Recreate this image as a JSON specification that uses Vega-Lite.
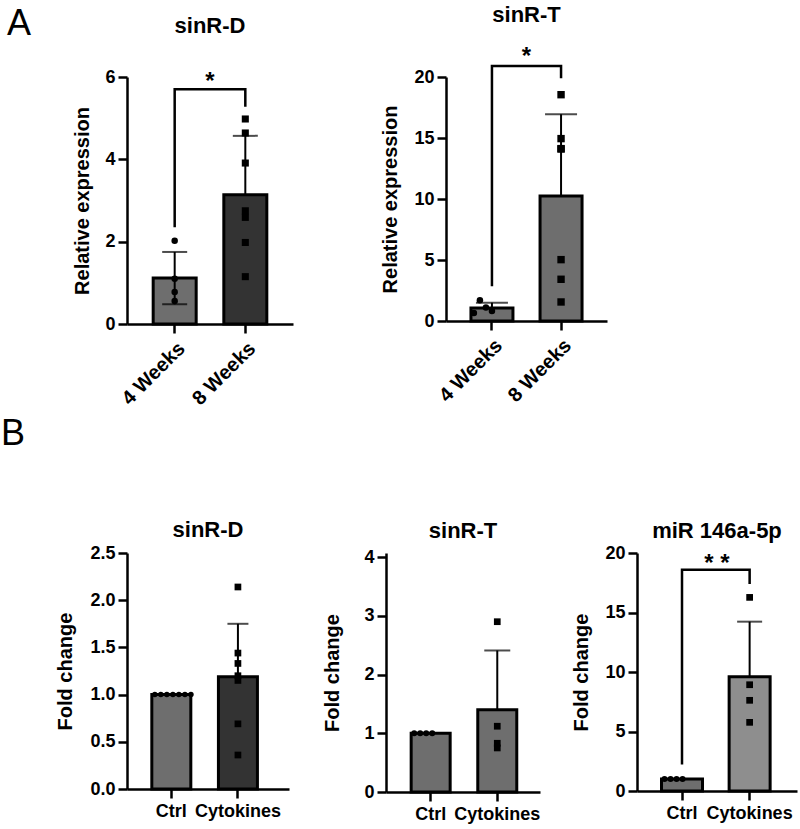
{
  "$schema": "https://vega.github.io/schema/vega-lite/v6.json",
  "autosize": "none",
  "padding": {"left": 127, "top": 77, "right": 673, "bottom": 752},
  "background": "white",
  "config": {
    "font": "Liberation Sans",
    "view": {"stroke": null},
    "axis": {
      "domainColor": "black", "domainWidth": 2.5,
      "tickColor": "black", "tickWidth": 2.5, "tickSize": 9,
      "labelColor": "black", "labelFontSize": 18, "labelFontWeight": "bold", "labelFont": "Liberation Sans", "labelPadding": 3,
      "titleColor": "black", "titleFontSize": 20, "titleFontWeight": "bold", "titleFont": "Liberation Sans",
      "grid": false
    },
    "title": {"fontSize": 22, "fontWeight": "bold", "color": "black", "font": "Liberation Sans", "anchor": "middle", "frame": "group", "baseline": "alphabetic"}
  },
  "datasets": {
    "bars": [
      {"panel": "A1", "group": "4 Weeks", "mean": 1.12, "hi": 1.75, "lo": 0.48},
      {"panel": "A1", "group": "8 Weeks", "mean": 3.14, "hi": 4.57},
      {"panel": "A2", "group": "4 Weeks", "mean": 1.07, "hi": 1.5},
      {"panel": "A2", "group": "8 Weeks", "mean": 10.25, "hi": 16.95},
      {"panel": "B1", "group": "Ctrl", "mean": 1.0},
      {"panel": "B1", "group": "Cytokines", "mean": 1.19, "hi": 1.75},
      {"panel": "B2", "group": "Ctrl", "mean": 1.0},
      {"panel": "B2", "group": "Cytokines", "mean": 1.4, "hi": 2.41},
      {"panel": "B3", "group": "Ctrl", "mean": 1.0},
      {"panel": "B3", "group": "Cytokines", "mean": 9.6, "hi": 14.23}
    ],
    "points": [
      {"panel": "A1", "group": "4 Weeks", "rep": 1, "value": 2.02},
      {"panel": "A1", "group": "4 Weeks", "rep": 2, "value": 1.1},
      {"panel": "A1", "group": "4 Weeks", "rep": 3, "value": 0.78},
      {"panel": "A1", "group": "4 Weeks", "rep": 4, "value": 0.56},
      {"panel": "A1", "group": "8 Weeks", "rep": 1, "value": 4.98},
      {"panel": "A1", "group": "8 Weeks", "rep": 2, "value": 4.64},
      {"panel": "A1", "group": "8 Weeks", "rep": 3, "value": 3.91},
      {"panel": "A1", "group": "8 Weeks", "rep": 4, "value": 2.75},
      {"panel": "A1", "group": "8 Weeks", "rep": 5, "value": 2.59},
      {"panel": "A1", "group": "8 Weeks", "rep": 6, "value": 1.98},
      {"panel": "A1", "group": "8 Weeks", "rep": 7, "value": 1.15},
      {"panel": "A2", "group": "4 Weeks", "rep": 1, "value": 0.66},
      {"panel": "A2", "group": "4 Weeks", "rep": 2, "value": 1.7},
      {"panel": "A2", "group": "4 Weeks", "rep": 3, "value": 1.1},
      {"panel": "A2", "group": "4 Weeks", "rep": 4, "value": 0.82},
      {"panel": "A2", "group": "8 Weeks", "rep": 1, "value": 18.55},
      {"panel": "A2", "group": "8 Weeks", "rep": 2, "value": 14.95},
      {"panel": "A2", "group": "8 Weeks", "rep": 3, "value": 14.13},
      {"panel": "A2", "group": "8 Weeks", "rep": 4, "value": 14.1},
      {"panel": "A2", "group": "8 Weeks", "rep": 5, "value": 5.03},
      {"panel": "A2", "group": "8 Weeks", "rep": 6, "value": 3.42},
      {"panel": "A2", "group": "8 Weeks", "rep": 7, "value": 1.56},
      {"panel": "B1", "group": "Ctrl", "rep": 1, "value": 1.0},
      {"panel": "B1", "group": "Ctrl", "rep": 2, "value": 1.0},
      {"panel": "B1", "group": "Ctrl", "rep": 3, "value": 1.0},
      {"panel": "B1", "group": "Ctrl", "rep": 4, "value": 1.0},
      {"panel": "B1", "group": "Ctrl", "rep": 5, "value": 1.0},
      {"panel": "B1", "group": "Ctrl", "rep": 6, "value": 1.0},
      {"panel": "B1", "group": "Ctrl", "rep": 7, "value": 1.0},
      {"panel": "B1", "group": "Cytokines", "rep": 1, "value": 2.14},
      {"panel": "B1", "group": "Cytokines", "rep": 2, "value": 1.44},
      {"panel": "B1", "group": "Cytokines", "rep": 3, "value": 1.33},
      {"panel": "B1", "group": "Cytokines", "rep": 4, "value": 1.2},
      {"panel": "B1", "group": "Cytokines", "rep": 5, "value": 1.15},
      {"panel": "B1", "group": "Cytokines", "rep": 6, "value": 0.69},
      {"panel": "B1", "group": "Cytokines", "rep": 7, "value": 0.36},
      {"panel": "B2", "group": "Ctrl", "rep": 1, "value": 1.0},
      {"panel": "B2", "group": "Ctrl", "rep": 2, "value": 1.0},
      {"panel": "B2", "group": "Ctrl", "rep": 3, "value": 1.0},
      {"panel": "B2", "group": "Ctrl", "rep": 4, "value": 1.0},
      {"panel": "B2", "group": "Cytokines", "rep": 1, "value": 2.9},
      {"panel": "B2", "group": "Cytokines", "rep": 2, "value": 1.12},
      {"panel": "B2", "group": "Cytokines", "rep": 3, "value": 0.83},
      {"panel": "B2", "group": "Cytokines", "rep": 4, "value": 0.75},
      {"panel": "B3", "group": "Ctrl", "rep": 1, "value": 1.0},
      {"panel": "B3", "group": "Ctrl", "rep": 2, "value": 1.0},
      {"panel": "B3", "group": "Ctrl", "rep": 3, "value": 1.0},
      {"panel": "B3", "group": "Ctrl", "rep": 4, "value": 1.0},
      {"panel": "B3", "group": "Cytokines", "rep": 1, "value": 16.27},
      {"panel": "B3", "group": "Cytokines", "rep": 2, "value": 8.93},
      {"panel": "B3", "group": "Cytokines", "rep": 3, "value": 7.62},
      {"panel": "B3", "group": "Cytokines", "rep": 4, "value": 5.77}
    ],
    "brackets": [
      {"panel": "A1", "group": "4 Weeks", "step": 1, "y": 2.35},
      {"panel": "A1", "group": "4 Weeks", "step": 2, "y": 5.7},
      {"panel": "A1", "group": "8 Weeks", "step": 3, "y": 5.7},
      {"panel": "A1", "group": "8 Weeks", "step": 4, "y": 5.28},
      {"panel": "A2", "group": "4 Weeks", "step": 1, "y": 2.85},
      {"panel": "A2", "group": "4 Weeks", "step": 2, "y": 20.9},
      {"panel": "A2", "group": "8 Weeks", "step": 3, "y": 20.9},
      {"panel": "A2", "group": "8 Weeks", "step": 4, "y": 19.9},
      {"panel": "B3", "group": "Ctrl", "step": 1, "y": 2.23},
      {"panel": "B3", "group": "Ctrl", "step": 2, "y": 18.6},
      {"panel": "B3", "group": "Cytokines", "step": 3, "y": 18.6},
      {"panel": "B3", "group": "Cytokines", "step": 4, "y": 17.4}
    ],
    "stars": [
      {"panel": "A1", "label": "*", "y": 6.05},
      {"panel": "A2", "label": "*", "y": 22.2},
      {"panel": "B3", "label": "* *", "y": 19.7}
    ]
  },
  "spacing": 476,
  "bounds": "flush",
  "vconcat": [
    {
      "title": {"text": "A", "anchor": "start", "fontSize": 36, "fontWeight": "normal", "dx": -120, "dy": 43},
      "spacing": 153,
      "bounds": "flush",
      "hconcat": [
        {
          "width": 166, "height": 247,
          "title": {"text": "sinR-D", "offset": 30},
          "layer": [
            {
              "data": {"name": "bars"},
              "transform": [{"filter": "datum.panel == 'A1'"}],
              "mark": {"type": "bar", "stroke": "black", "strokeWidth": 3, "width": 43},
              "encoding": {
                "x": {"field": "group", "type": "nominal", "title": null, "scale": {"type": "band", "domain": ["4 Weeks", "8 Weeks"], "paddingInner": 0.39, "paddingOuter": 0.37}, "axis": {"labelAngle": -45, "labelPadding": 5, "labelFontSize": 20}},
                "y": {"field": "mean", "type": "quantitative", "title": "Relative expression", "scale": {"domain": [0, 6], "nice": false}, "axis": {"values": [0, 2, 4, 6], "format": "d", "titlePadding": 12}},
                "color": {"condition": {"test": "datum.group == '8 Weeks'", "value": "#333333"}, "value": "#6e6e6e"}
              }
            },
            {
              "data": {"name": "bars"},
              "transform": [{"filter": "datum.panel == 'A1' && isValid(datum.hi)"}],
              "mark": {"type": "rule", "color": "black", "strokeWidth": 2},
              "encoding": {
                "x": {"field": "group", "type": "nominal", "title": null, "scale": {"type": "band", "domain": ["4 Weeks", "8 Weeks"]}},
                "y": {"field": "mean", "type": "quantitative", "title": "Relative expression", "scale": {"domain": [0, 6], "nice": false}},
                "y2": {"field": "hi"}
              }
            },
            {
              "data": {"name": "bars"},
              "transform": [{"filter": "datum.panel == 'A1' && isValid(datum.lo)"}],
              "mark": {"type": "rule", "color": "black", "strokeWidth": 2},
              "encoding": {
                "x": {"field": "group", "type": "nominal", "title": null, "scale": {"type": "band", "domain": ["4 Weeks", "8 Weeks"]}},
                "y": {"field": "lo", "type": "quantitative", "title": "Relative expression", "scale": {"domain": [0, 6], "nice": false}},
                "y2": {"field": "mean"}
              }
            },
            {
              "data": {"name": "bars"},
              "transform": [{"filter": "datum.panel == 'A1' && isValid(datum.hi)"}],
              "mark": {"type": "tick", "orient": "horizontal", "size": 25, "thickness": 2, "color": "black"},
              "encoding": {
                "x": {"field": "group", "type": "nominal", "title": null, "scale": {"type": "band", "domain": ["4 Weeks", "8 Weeks"]}},
                "y": {"field": "hi", "type": "quantitative", "title": "Relative expression", "scale": {"domain": [0, 6], "nice": false}}
              }
            },
            {
              "data": {"name": "bars"},
              "transform": [{"filter": "datum.panel == 'A1' && isValid(datum.lo)"}],
              "mark": {"type": "tick", "orient": "horizontal", "size": 25, "thickness": 2, "color": "black"},
              "encoding": {
                "x": {"field": "group", "type": "nominal", "title": null, "scale": {"type": "band", "domain": ["4 Weeks", "8 Weeks"]}},
                "y": {"field": "lo", "type": "quantitative", "title": "Relative expression", "scale": {"domain": [0, 6], "nice": false}}
              }
            },
            {
              "data": {"name": "points"},
              "transform": [{"filter": "datum.panel == 'A1' && datum.group == '4 Weeks'"}],
              "mark": {"type": "point", "shape": "circle", "filled": true, "color": "black", "opacity": 1, "size": 42},
              "encoding": {
                "x": {"field": "group", "type": "nominal", "title": null, "scale": {"type": "band", "domain": ["4 Weeks", "8 Weeks"]}},
                "y": {"field": "value", "type": "quantitative", "title": "Relative expression", "scale": {"domain": [0, 6], "nice": false}}
              }
            },
            {
              "data": {"name": "points"},
              "transform": [{"filter": "datum.panel == 'A1' && datum.group == '8 Weeks'"}],
              "mark": {"type": "point", "shape": "square", "filled": true, "color": "black", "opacity": 1, "size": 50},
              "encoding": {
                "x": {"field": "group", "type": "nominal", "title": null, "scale": {"type": "band", "domain": ["4 Weeks", "8 Weeks"]}},
                "y": {"field": "value", "type": "quantitative", "title": "Relative expression", "scale": {"domain": [0, 6], "nice": false}}
              }
            },
            {
              "data": {"name": "brackets"},
              "transform": [{"filter": "datum.panel == 'A1'"}],
              "mark": {"type": "line", "color": "black", "strokeWidth": 2.5, "strokeCap": "butt"},
              "encoding": {
                "x": {"field": "group", "type": "nominal", "title": null, "scale": {"type": "band", "domain": ["4 Weeks", "8 Weeks"]}},
                "y": {"field": "y", "type": "quantitative", "title": "Relative expression", "scale": {"domain": [0, 6], "nice": false}},
                "order": {"field": "step", "type": "quantitative"}
              }
            },
            {
              "data": {"name": "stars"},
              "transform": [{"filter": "datum.panel == 'A1'"}],
              "mark": {"type": "text", "fontSize": 24, "fontWeight": "bold", "color": "black", "baseline": "middle", "dy": 7},
              "encoding": {
                "y": {"field": "y", "type": "quantitative", "title": "Relative expression", "scale": {"domain": [0, 6], "nice": false}},
                "text": {"field": "label"}
              }
            }
          ]
        },
        {
          "width": 161, "height": 244,
          "title": {"text": "sinR-T", "offset": 18},
          "layer": [
            {
              "data": {"name": "bars"},
              "transform": [{"filter": "datum.panel == 'A2'"}],
              "mark": {"type": "bar", "stroke": "black", "strokeWidth": 3, "width": 42},
              "encoding": {
                "x": {"field": "group", "type": "nominal", "title": null, "scale": {"type": "band", "domain": ["4 Weeks", "8 Weeks"], "paddingInner": 0.39, "paddingOuter": 0.36}, "axis": {"labelAngle": -45, "labelPadding": 5, "labelFontSize": 20}},
                "y": {"field": "mean", "type": "quantitative", "title": "Relative expression", "scale": {"domain": [0, 20], "nice": false}, "axis": {"values": [0, 5, 10, 15, 20], "format": "d", "titlePadding": 13}},
                "color": {"value": "#6e6e6e"}
              }
            },
            {
              "data": {"name": "bars"},
              "transform": [{"filter": "datum.panel == 'A2' && isValid(datum.hi)"}],
              "mark": {"type": "rule", "color": "black", "strokeWidth": 2},
              "encoding": {
                "x": {"field": "group", "type": "nominal", "title": null, "scale": {"type": "band", "domain": ["4 Weeks", "8 Weeks"]}},
                "y": {"field": "mean", "type": "quantitative", "title": "Relative expression", "scale": {"domain": [0, 20], "nice": false}},
                "y2": {"field": "hi"}
              }
            },
            {
              "data": {"name": "bars"},
              "transform": [{"filter": "datum.panel == 'A2' && isValid(datum.hi)"}],
              "mark": {"type": "tick", "orient": "horizontal", "size": 32, "thickness": 2, "color": "black"},
              "encoding": {
                "x": {"field": "group", "type": "nominal", "title": null, "scale": {"type": "band", "domain": ["4 Weeks", "8 Weeks"]}},
                "y": {"field": "hi", "type": "quantitative", "title": "Relative expression", "scale": {"domain": [0, 20], "nice": false}}
              }
            },
            {
              "data": {"name": "points"},
              "transform": [{"filter": "datum.panel == 'A2' && datum.group == '4 Weeks'"}],
              "mark": {"type": "point", "shape": "circle", "filled": true, "color": "black", "opacity": 1, "size": 42},
              "encoding": {
                "x": {"field": "group", "type": "nominal", "title": null, "scale": {"type": "band", "domain": ["4 Weeks", "8 Weeks"]}},
                "xOffset": {"field": "rep", "type": "ordinal"},
                "y": {"field": "value", "type": "quantitative", "title": "Relative expression", "scale": {"domain": [0, 20], "nice": false}}
              }
            },
            {
              "data": {"name": "points"},
              "transform": [{"filter": "datum.panel == 'A2' && datum.group == '8 Weeks'"}],
              "mark": {"type": "point", "shape": "square", "filled": true, "color": "black", "opacity": 1, "size": 55},
              "encoding": {
                "x": {"field": "group", "type": "nominal", "title": null, "scale": {"type": "band", "domain": ["4 Weeks", "8 Weeks"]}},
                "y": {"field": "value", "type": "quantitative", "title": "Relative expression", "scale": {"domain": [0, 20], "nice": false}}
              }
            },
            {
              "data": {"name": "brackets"},
              "transform": [{"filter": "datum.panel == 'A2'"}],
              "mark": {"type": "line", "color": "black", "strokeWidth": 2.5, "strokeCap": "butt"},
              "encoding": {
                "x": {"field": "group", "type": "nominal", "title": null, "scale": {"type": "band", "domain": ["4 Weeks", "8 Weeks"]}},
                "y": {"field": "y", "type": "quantitative", "title": "Relative expression", "scale": {"domain": [0, 20], "nice": false}},
                "order": {"field": "step", "type": "quantitative"}
              }
            },
            {
              "data": {"name": "stars"},
              "transform": [{"filter": "datum.panel == 'A2'"}],
              "mark": {"type": "text", "fontSize": 24, "fontWeight": "bold", "color": "black", "baseline": "middle", "dy": 7},
              "encoding": {
                "y": {"field": "y", "type": "quantitative", "title": "Relative expression", "scale": {"domain": [0, 20], "nice": false}},
                "text": {"field": "label"}
              }
            }
          ]
        }
      ]
    },
    {
      "title": {"text": "B", "anchor": "start", "fontSize": 36, "fontWeight": "normal", "dx": -126, "dy": -62},
      "spacing": 97,
      "bounds": "flush",
      "hconcat": [
        {
          "width": 162, "height": 236,
          "title": {"text": "sinR-D", "offset": 2},
          "layer": [
            {
              "data": {"name": "bars"},
              "transform": [{"filter": "datum.panel == 'B1'"}],
              "mark": {"type": "bar", "stroke": "black", "strokeWidth": 3, "width": 39},
              "encoding": {
                "x": {"field": "group", "type": "nominal", "title": null, "scale": {"type": "band", "domain": ["Ctrl", "Cytokines"], "paddingInner": 0.414, "paddingOuter": 0.423, "align": 0.44}, "axis": {"labelAngle": 0, "labelPadding": 4}},
                "y": {"field": "mean", "type": "quantitative", "title": "Fold change", "scale": {"domain": [0, 2.5], "nice": false}, "axis": {"values": [0, 0.5, 1, 1.5, 2, 2.5], "format": ".1f", "titlePadding": 14}},
                "color": {"condition": {"test": "datum.group == 'Cytokines'", "value": "#333333"}, "value": "#6e6e6e"}
              }
            },
            {
              "data": {"name": "bars"},
              "transform": [{"filter": "datum.panel == 'B1' && isValid(datum.hi)"}],
              "mark": {"type": "rule", "color": "black", "strokeWidth": 2},
              "encoding": {
                "x": {"field": "group", "type": "nominal", "title": null, "scale": {"type": "band", "domain": ["Ctrl", "Cytokines"]}},
                "y": {"field": "mean", "type": "quantitative", "title": "Fold change", "scale": {"domain": [0, 2.5], "nice": false}},
                "y2": {"field": "hi"}
              }
            },
            {
              "data": {"name": "bars"},
              "transform": [{"filter": "datum.panel == 'B1' && isValid(datum.hi)"}],
              "mark": {"type": "tick", "orient": "horizontal", "size": 21, "thickness": 2, "color": "black"},
              "encoding": {
                "x": {"field": "group", "type": "nominal", "title": null, "scale": {"type": "band", "domain": ["Ctrl", "Cytokines"]}},
                "y": {"field": "hi", "type": "quantitative", "title": "Fold change", "scale": {"domain": [0, 2.5], "nice": false}}
              }
            },
            {
              "data": {"name": "points"},
              "transform": [{"filter": "datum.panel == 'B1' && datum.group == 'Ctrl'"}],
              "mark": {"type": "point", "shape": "circle", "filled": true, "color": "black", "opacity": 1, "size": 30},
              "encoding": {
                "x": {"field": "group", "type": "nominal", "title": null, "scale": {"type": "band", "domain": ["Ctrl", "Cytokines"]}},
                "xOffset": {"field": "rep", "type": "ordinal"},
                "y": {"field": "value", "type": "quantitative", "title": "Fold change", "scale": {"domain": [0, 2.5], "nice": false}}
              }
            },
            {
              "data": {"name": "points"},
              "transform": [{"filter": "datum.panel == 'B1' && datum.group == 'Cytokines'"}],
              "mark": {"type": "point", "shape": "square", "filled": true, "color": "black", "opacity": 1, "size": 45},
              "encoding": {
                "x": {"field": "group", "type": "nominal", "title": null, "scale": {"type": "band", "domain": ["Ctrl", "Cytokines"]}},
                "y": {"field": "value", "type": "quantitative", "title": "Fold change", "scale": {"domain": [0, 2.5], "nice": false}}
              }
            }
          ]
        },
        {
          "width": 154, "height": 239,
          "title": {"text": "sinR-T", "offset": 5},
          "layer": [
            {
              "data": {"name": "bars"},
              "transform": [{"filter": "datum.panel == 'B2'"}],
              "mark": {"type": "bar", "stroke": "black", "strokeWidth": 3, "width": 39},
              "encoding": {
                "x": {"field": "group", "type": "nominal", "title": null, "scale": {"type": "band", "domain": ["Ctrl", "Cytokines"], "paddingInner": 0.414, "paddingOuter": 0.363, "align": 0.52}, "axis": {"labelAngle": 0, "labelPadding": 4}},
                "y": {"field": "mean", "type": "quantitative", "title": "Fold change", "scale": {"domain": [0, 4.07], "nice": false}, "axis": {"values": [0, 1, 2, 3, 4], "format": "d", "titlePadding": 21}},
                "color": {"value": "#6e6e6e"}
              }
            },
            {
              "data": {"name": "bars"},
              "transform": [{"filter": "datum.panel == 'B2' && isValid(datum.hi)"}],
              "mark": {"type": "rule", "color": "black", "strokeWidth": 2},
              "encoding": {
                "x": {"field": "group", "type": "nominal", "title": null, "scale": {"type": "band", "domain": ["Ctrl", "Cytokines"]}},
                "y": {"field": "mean", "type": "quantitative", "title": "Fold change", "scale": {"domain": [0, 4.07], "nice": false}},
                "y2": {"field": "hi"}
              }
            },
            {
              "data": {"name": "bars"},
              "transform": [{"filter": "datum.panel == 'B2' && isValid(datum.hi)"}],
              "mark": {"type": "tick", "orient": "horizontal", "size": 26, "thickness": 2, "color": "black"},
              "encoding": {
                "x": {"field": "group", "type": "nominal", "title": null, "scale": {"type": "band", "domain": ["Ctrl", "Cytokines"]}},
                "y": {"field": "hi", "type": "quantitative", "title": "Fold change", "scale": {"domain": [0, 4.07], "nice": false}}
              }
            },
            {
              "data": {"name": "points"},
              "transform": [{"filter": "datum.panel == 'B2' && datum.group == 'Ctrl'"}],
              "mark": {"type": "point", "shape": "circle", "filled": true, "color": "black", "opacity": 1, "size": 36},
              "encoding": {
                "x": {"field": "group", "type": "nominal", "title": null, "scale": {"type": "band", "domain": ["Ctrl", "Cytokines"]}},
                "xOffset": {"field": "rep", "type": "ordinal"},
                "y": {"field": "value", "type": "quantitative", "title": "Fold change", "scale": {"domain": [0, 4.07], "nice": false}}
              }
            },
            {
              "data": {"name": "points"},
              "transform": [{"filter": "datum.panel == 'B2' && datum.group == 'Cytokines'"}],
              "mark": {"type": "point", "shape": "square", "filled": true, "color": "black", "opacity": 1, "size": 45},
              "encoding": {
                "x": {"field": "group", "type": "nominal", "title": null, "scale": {"type": "band", "domain": ["Ctrl", "Cytokines"]}},
                "y": {"field": "value", "type": "quantitative", "title": "Fold change", "scale": {"domain": [0, 4.07], "nice": false}}
              }
            }
          ]
        },
        {
          "width": 160, "height": 238,
          "title": {"text": "miR 146a-5p", "offset": 1},
          "layer": [
            {
              "data": {"name": "bars"},
              "transform": [{"filter": "datum.panel == 'B3'"}],
              "mark": {"type": "bar", "stroke": "black", "strokeWidth": 3, "width": 41},
              "encoding": {
                "x": {"field": "group", "type": "nominal", "title": null, "scale": {"type": "band", "domain": ["Ctrl", "Cytokines"], "paddingInner": 0.394, "paddingOuter": 0.38, "align": 0.477}, "axis": {"labelAngle": 0, "labelPadding": 4}},
                "y": {"field": "mean", "type": "quantitative", "title": "Fold change", "scale": {"domain": [0, 20], "nice": false}, "axis": {"values": [0, 5, 10, 15, 20], "format": "d", "titlePadding": 13}},
                "color": {"condition": {"test": "datum.group == 'Cytokines'", "value": "#8e8e8e"}, "value": "#6e6e6e"}
              }
            },
            {
              "data": {"name": "bars"},
              "transform": [{"filter": "datum.panel == 'B3' && isValid(datum.hi)"}],
              "mark": {"type": "rule", "color": "black", "strokeWidth": 2},
              "encoding": {
                "x": {"field": "group", "type": "nominal", "title": null, "scale": {"type": "band", "domain": ["Ctrl", "Cytokines"]}},
                "y": {"field": "mean", "type": "quantitative", "title": "Fold change", "scale": {"domain": [0, 20], "nice": false}},
                "y2": {"field": "hi"}
              }
            },
            {
              "data": {"name": "bars"},
              "transform": [{"filter": "datum.panel == 'B3' && isValid(datum.hi)"}],
              "mark": {"type": "tick", "orient": "horizontal", "size": 25, "thickness": 2, "color": "black"},
              "encoding": {
                "x": {"field": "group", "type": "nominal", "title": null, "scale": {"type": "band", "domain": ["Ctrl", "Cytokines"]}},
                "y": {"field": "hi", "type": "quantitative", "title": "Fold change", "scale": {"domain": [0, 20], "nice": false}}
              }
            },
            {
              "data": {"name": "points"},
              "transform": [{"filter": "datum.panel == 'B3' && datum.group == 'Ctrl'"}],
              "mark": {"type": "point", "shape": "circle", "filled": true, "color": "black", "opacity": 1, "size": 36},
              "encoding": {
                "x": {"field": "group", "type": "nominal", "title": null, "scale": {"type": "band", "domain": ["Ctrl", "Cytokines"]}},
                "xOffset": {"field": "rep", "type": "ordinal"},
                "y": {"field": "value", "type": "quantitative", "title": "Fold change", "scale": {"domain": [0, 20], "nice": false}}
              }
            },
            {
              "data": {"name": "points"},
              "transform": [{"filter": "datum.panel == 'B3' && datum.group == 'Cytokines'"}],
              "mark": {"type": "point", "shape": "square", "filled": true, "color": "black", "opacity": 1, "size": 45},
              "encoding": {
                "x": {"field": "group", "type": "nominal", "title": null, "scale": {"type": "band", "domain": ["Ctrl", "Cytokines"]}},
                "y": {"field": "value", "type": "quantitative", "title": "Fold change", "scale": {"domain": [0, 20], "nice": false}}
              }
            },
            {
              "data": {"name": "brackets"},
              "transform": [{"filter": "datum.panel == 'B3'"}],
              "mark": {"type": "line", "color": "black", "strokeWidth": 2.5, "strokeCap": "butt"},
              "encoding": {
                "x": {"field": "group", "type": "nominal", "title": null, "scale": {"type": "band", "domain": ["Ctrl", "Cytokines"]}},
                "y": {"field": "y", "type": "quantitative", "title": "Fold change", "scale": {"domain": [0, 20], "nice": false}},
                "order": {"field": "step", "type": "quantitative"}
              }
            },
            {
              "data": {"name": "stars"},
              "transform": [{"filter": "datum.panel == 'B3'"}],
              "mark": {"type": "text", "fontSize": 24, "fontWeight": "bold", "color": "black", "baseline": "middle", "dy": 7},
              "encoding": {
                "y": {"field": "y", "type": "quantitative", "title": "Fold change", "scale": {"domain": [0, 20], "nice": false}},
                "text": {"field": "label"}
              }
            }
          ]
        }
      ]
    }
  ]
}
